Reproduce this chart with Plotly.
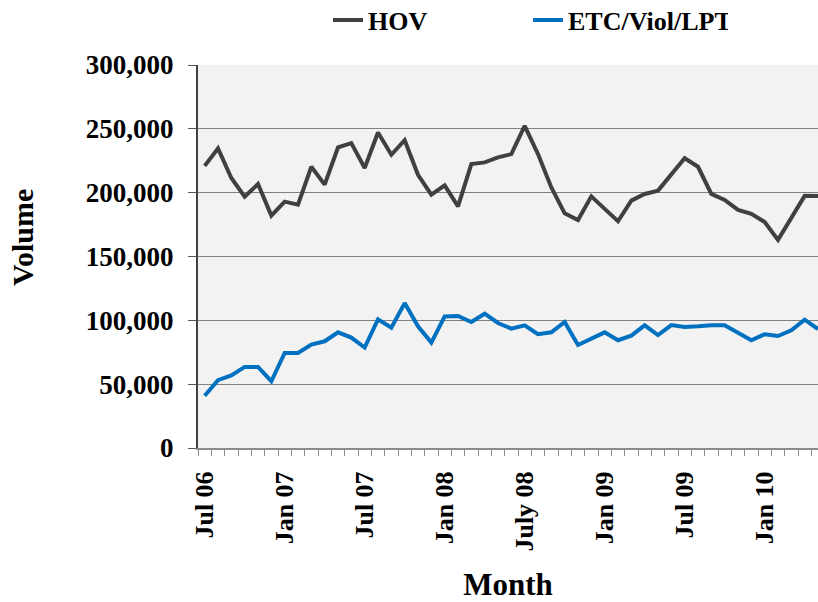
import plotly.graph_objects as go

months = list(range(47))
tick_pos = [0, 6, 12, 18, 24, 30, 36, 42]
tick_labels = ["Jul 06", "Jan 07", "Jul 07", "Jan 08", "July 08", "Jan 09", "Jul 09", "Jan 10"]

hov = [221000, 234600, 211500, 196900, 206800, 182000, 193000, 190600, 220300, 206300,
       235400, 238800, 219300, 247100, 229700, 241100, 214000, 198400, 205700, 189300,
       222400, 223700, 227600, 230200, 252300, 230200, 204100, 183800, 178600, 197100,
       187300, 177600, 193750, 199000, 201600, 214600, 227000, 220300, 199000, 194300,
       186500, 183400, 177000, 163000, 179900, 197500, 197300]

etc = [40900, 53100, 56800, 63500, 63500, 52300, 74500, 74500, 81000, 83600,
       90600, 86500, 78700, 100800, 94300, 113500, 95300, 82600, 103100, 103400,
       98700, 105200, 97900, 93500, 96100, 89100, 90600, 98700, 80700, 85700,
       90600, 84400, 88000, 96100, 88500, 96300, 94800, 95300, 96100, 96100,
       90100, 84400, 89100, 87700, 92200, 100500, 93200]

y_ticks = [0, 50000, 100000, 150000, 200000, 250000, 300000]

FONT = "Liberation Serif"
W, H = 818, 602
L, R, T, B = 198, 0, 65, 154
PW, PH = W - L - R, H - T - B

fig = go.Figure()
fig.add_trace(go.Scatter(x=months, y=hov, mode="lines", name="HOV",
                         line=dict(color="#404040", width=4)))
fig.add_trace(go.Scatter(x=months, y=etc, mode="lines", name="ETC/Viol/LPT",
                         line=dict(color="#0070C0", width=4)))

fig.update_layout(
    width=W, height=H,
    margin=dict(l=L, r=R, t=T, b=B, autoexpand=False),
    paper_bgcolor="white",
    plot_bgcolor="#F2F2F2",
    hovermode=False,
    font=dict(family=FONT, color="black", size=22, weight="bold"),
    showlegend=True,
    legend=dict(orientation="h", x=328 / W, xref="container", xanchor="left",
                y=1 - 20 / H, yref="container", yanchor="middle",
                font=dict(size=26, family=FONT, weight="bold"),
                itemwidth=30, entrywidth=155, bgcolor="rgba(0,0,0,0)"),
    xaxis=dict(
        range=[-0.5, 46.0], automargin=False,
        tickmode="array", tickvals=tick_pos, ticktext=tick_labels,
        tickangle=-90, ticks="", showgrid=False, zeroline=False,
        showline=True, linecolor="#8c8c8c", linewidth=2,
        ticklabelstandoff=11,
        tickfont=dict(size=26, family=FONT, weight="bold"),
        minor=dict(tick0=-0.5, dtick=1, ticks="outside", ticklen=6,
                   tickcolor="#8c8c8c", tickwidth=1, showgrid=False),
        title=dict(text="Month", font=dict(size=31, family=FONT, weight="bold"), standoff=26),
    ),
    yaxis=dict(
        range=[0, 300000], automargin=False,
        tickmode="array", tickvals=y_ticks,
        tickformat=",d",
        ticks="outside", ticklen=8, tickcolor="#555555", tickwidth=1,
        showline=True, linecolor="#404040", linewidth=2,
        showgrid=True, gridcolor="#808080", gridwidth=1,
        zeroline=False,
        ticklabelstandoff=9,
        tickfont=dict(size=27, family=FONT, weight="bold"),
    ),
    annotations=[dict(
        text="Volume", textangle=-90, showarrow=False,
        xref="paper", yref="paper",
        x=(22 - L) / PW, y=(H - B - 238) / PH,
        xanchor="center", yanchor="middle",
        font=dict(size=30, family=FONT, weight="bold", color="black"),
    )],
)

fig.write_html("out.html", config={"displayModeBar": False},
               post_script="document.body.style.margin='0';")
